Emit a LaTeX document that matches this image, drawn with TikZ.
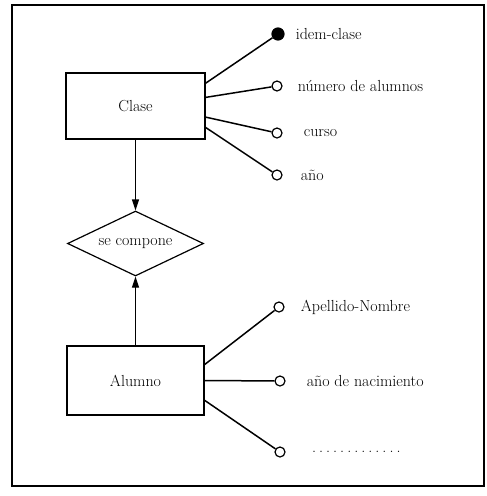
\documentclass[tikz,border=0pt]{standalone}
\usepackage{tikz}
\usetikzlibrary{positioning}
\usetikzlibrary{arrows.meta}
\usetikzlibrary{shapes.geometric}
\newcommand{\erfont}{\fontsize{16}{19}\selectfont}
\tikzset{
  entityNode/.style={%
    rectangle, draw, line width=1.3pt, inner sep=0pt, font=\erfont,
  },
  relNode/.style={%
    diamond, draw, line width=1.2pt, aspect=2.1, inner sep=0pt,
    minimum width=136pt, minimum height=65pt, font=\erfont,
  },
  attrNode/.style={%
    circle, draw, line width=1.2pt, fill=white, minimum size=10pt, inner sep=0pt,
  },
  keyNode/.style={attrNode, fill=black, minimum size=12pt},
  labelNode/.style={inner sep=0pt, font=\erfont},
  linkEdge/.style={line width=1.5pt},
}

\begin{document}
\begin{tikzpicture}[x=1pt,y=-1pt]
  \useasboundingbox (0,0) rectangle (487,496);
  \draw[line width=1.4pt] (12,5) rectangle (484,486);

  % entities and relationship
  \node[entityNode,minimum width=139pt,minimum height=66pt] (clase) at (135.5,106) {Clase};
  \node[relNode] (compone) at (135.5,243.5) {se compone};
  \node[entityNode,minimum width=137pt,minimum height=69pt] (alumno) at (135.5,380.5) {Alumno};

  % attributes of Clase
  \node[keyNode] (attr0) at (278,34) {};
  \node[attrNode] (attr1) at (277,86) {};
  \node[attrNode] (attr2) at (277,133) {};
  \node[attrNode] (attr3) at (277,175) {};
  \node[labelNode,right=11pt of attr0] (lab0) {idem-clase};
  \node[labelNode,right=15pt of attr1] (lab1) {número de alumnos};
  \node[labelNode,right=21pt of attr2] (lab2) {curso};
  \node[labelNode,right=18pt of attr3] (lab3) {año};

  % attributes of Alumno
  \node[attrNode] (attr4) at (279,307) {};
  \node[attrNode] (attr5) at (280,381) {};
  \node[attrNode] (attr6) at (280,452) {};
  \node[labelNode,right=16pt of attr4] (lab4) {Apellido-Nombre};
  \node[labelNode,right=21pt of attr5] (lab5) {año de nacimiento};
  \node[labelNode,right=22pt of attr6] (lab6) {\makebox[97pt][l]{\dotfill}};

  \draw[linkEdge]
    (clase.18) -- (attr0)
    (clase.7) -- (attr1)
    (clase.-9) -- (attr2)
    (clase.-17) -- (attr3)
    (alumno.13) -- (attr4)
    (alumno.east) -- (attr5)
    (alumno.-16) -- (attr6)
    ;

  \draw[line width=1.2pt,-{Triangle[length=11pt,width=7pt]}] (clase.south) -- (compone.north);
  \draw[line width=1.2pt,-{Triangle[length=11pt,width=7pt]}] (alumno.north) -- (compone.south);

\end{tikzpicture}
\end{document}
